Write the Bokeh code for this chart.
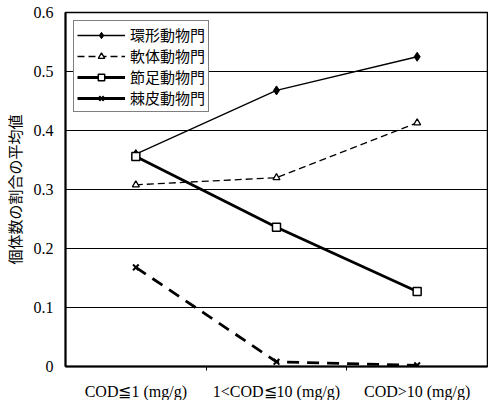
import math
from bokeh.plotting import figure
from bokeh.models import FixedTicker, Legend, LegendItem, ColumnDataSource, Range1d
from bokeh.embed import file_html
from bokeh.resources import INLINE

categories = ["COD≦1 (mg/g)", "1<COD≦10 (mg/g)", "COD>10 (mg/g)"]
annelida = [0.360, 0.468, 0.525]
mollusca = [0.308, 0.320, 0.413]
arthropoda = [0.356, 0.236, 0.127]
echinodermata = [0.168, 0.008, 0.002]
series_names = ["環形動物門", "軟体動物門", "節足動物門", "棘皮動物門"]
y_ticks = [0, 0.1, 0.2, 0.3, 0.4, 0.5, 0.6]

xs = [i + 0.5 for i in range(len(categories))]

p = figure(output_backend="svg", toolbar_location=None,
           x_range=Range1d(0, 3), y_range=Range1d(0, 0.6),
           frame_width=422, frame_height=354,
           min_border_left=54, min_border_right=2, min_border_top=12, min_border_bottom=28)
p.background_fill_color = "white"
p.border_fill_color = "white"
p.outline_line_color = "black"
p.outline_line_width = 1.5

# axes
p.xaxis.ticker = FixedTicker(ticks=xs, minor_ticks=[1, 2])
p.xaxis.major_label_overrides = {x: c for x, c in zip(xs, categories)}
p.xaxis.major_tick_line_color = None
p.xaxis.minor_tick_out = 4
p.xaxis.minor_tick_in = 0
p.xaxis.minor_tick_line_color = "black"
p.xaxis.axis_line_width = 2
p.xaxis.major_label_text_font = "Liberation Serif"
p.xaxis.major_label_text_font_size = "16px"
p.xaxis.major_label_text_color = "black"
p.xaxis.major_label_standoff = 10

p.yaxis.ticker = FixedTicker(ticks=y_ticks)
p.yaxis.major_label_overrides = {0: "0"}
p.yaxis.major_tick_line_color = None
p.yaxis.minor_tick_line_color = None
p.yaxis.axis_line_width = 2
p.yaxis.major_label_text_font = "Liberation Serif"
p.yaxis.major_label_text_font_size = "16px"
p.yaxis.major_label_text_color = "black"
p.yaxis.major_label_standoff = 6
p.yaxis.axis_label = "個体数の割合の平均値"
p.yaxis.axis_label_text_font = "Noto Sans CJK JP"
p.yaxis.axis_label_text_font_style = "normal"
p.yaxis.axis_label_text_font_size = "15px"
p.yaxis.axis_label_text_color = "black"
p.yaxis.axis_label_standoff = 6

p.xgrid.grid_line_color = None
p.ygrid.grid_line_color = "black"
p.ygrid.grid_line_width = 1

# series
l1 = p.line(xs, annelida, line_color="black", line_width=1.3)
m1 = p.scatter(xs, annelida, marker="diamond", size=9, fill_color="black", line_color="black")

l2 = p.line(xs, mollusca, line_color="black", line_width=1.3, line_dash="7 4")
m2 = p.scatter(xs, mollusca, marker="triangle", size=7, fill_color="white", line_color="black", line_width=1.3)

l3 = p.line(xs, arthropoda, line_color="black", line_width=2.8)
m3 = p.scatter(xs, arthropoda, marker="square", size=8, fill_color="white", line_color="black", line_width=1.5)

l4 = p.line(xs, echinodermata, line_color="black", line_width=2.8, line_dash="12 8")
m4 = p.scatter(xs, echinodermata, marker="x", size=8, line_color="black", line_width=2)

# legend proxy for the last series (drawn solid in the legend)
e = ColumnDataSource(dict(x=[math.nan], y=[math.nan]))
pl4 = p.line("x", "y", source=e, line_color="black", line_width=2.8)
pm4 = p.scatter("x", "y", source=e, marker="x", size=8, line_color="black", line_width=2)

legend = Legend(items=[
    LegendItem(label=series_names[0], renderers=[l1, m1]),
    LegendItem(label=series_names[1], renderers=[l2, m2]),
    LegendItem(label=series_names[2], renderers=[l3, m3]),
    LegendItem(label=series_names[3], renderers=[pl4, pm4]),
], location="top_left")
legend.label_text_font = "Noto Sans CJK JP"
legend.label_text_font_size = "15px"
legend.label_text_color = "black"
legend.glyph_width = 48
legend.glyph_height = 16
legend.label_height = 16
legend.spacing = -2
legend.padding = 3
legend.margin = 8
legend.label_standoff = 5
legend.border_line_color = "black"
legend.border_line_width = 1
legend.background_fill_alpha = 1
p.add_layout(legend, "center")

open("out.html", "w").write(file_html(p, INLINE))
